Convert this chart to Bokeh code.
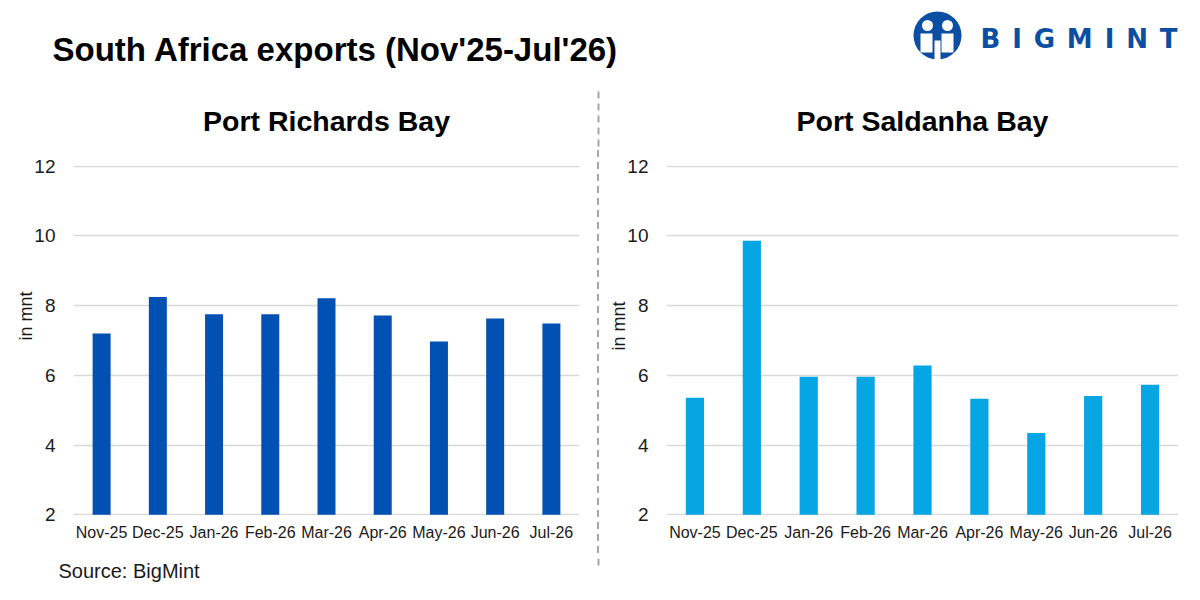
from bokeh.plotting import figure
from bokeh.layouts import column, row
from bokeh.models import Range1d, FactorRange, FixedTicker, ColumnDataSource, Title, Div
from bokeh.core.properties import value
from bokeh.embed import file_html
from bokeh.resources import INLINE

# ---- data ----
months = ["Nov-25", "Dec-25", "Jan-26", "Feb-26", "Mar-26", "Apr-26", "May-26", "Jun-26", "Jul-26"]
richards_bay = [7.20, 8.25, 7.75, 7.75, 8.21, 7.72, 6.97, 7.63, 7.49]
saldanha_bay = [5.36, 9.86, 5.96, 5.96, 6.28, 5.33, 4.35, 5.41, 5.73]
y_ticks = [2, 4, 6, 8, 10, 12]

main_title = "South Africa exports (Nov'25-Jul'26)"
left_title = "Port Richards Bay"
right_title = "Port Saldanha Bay"
y_label = "in mnt"
source_text = "Source: BigMint"
logo_text = "BIGMINT"

FONT = "Liberation Sans"
DARK = "#1a1a1a"
GRID = "#d9d9d9"
LEFT_COLOR = "#0051B3"
RIGHT_COLOR = "#06A5E3"
LOGO_BLUE = "#0B4EA2"
DIVIDER = "#a6a6a6"

HEAD_H = 150
ROW_H = 408
FOOT_H = 42


def bare(p):
    p.axis.visible = False
    p.xgrid.grid_line_color = None
    p.ygrid.grid_line_color = None
    p.outline_line_color = None
    p.background_fill_color = "white"
    p.border_fill_color = "white"


def panel(values, color, width, border_left, border_right, label_offset):
    src = ColumnDataSource(dict(month=months, value=values))
    p = figure(x_range=FactorRange(factors=months), y_range=Range1d(1.98, 12.02),
               width=width, height=ROW_H, output_backend="svg", toolbar_location=None,
               min_border_left=border_left, min_border_right=border_right,
               min_border_top=15, min_border_bottom=43, title=None)
    p.vbar(x="month", top="value", bottom=2, width=0.32, source=src,
           fill_color=color, line_color=None)
    p.xgrid.grid_line_color = None
    p.ygrid.ticker = FixedTicker(ticks=y_ticks)
    p.ygrid.grid_line_color = GRID
    p.ygrid.grid_line_width = 1.5
    p.yaxis.ticker = FixedTicker(ticks=y_ticks)
    for ax in (p.xaxis, p.yaxis):
        ax.axis_line_color = None
        ax.major_tick_line_color = None
        ax.minor_tick_line_color = None
        ax.major_label_text_font = FONT
        ax.major_label_text_color = DARK
    p.yaxis.major_label_text_font_size = "19px"
    p.yaxis.major_label_standoff = 12
    p.xaxis.major_label_text_font_size = "16px"
    p.xaxis.major_label_standoff = 2
    # y-axis caption, shifted along the axis as in the original
    p.add_layout(Title(text=y_label, align="left", offset=label_offset, standoff=-8,
                       text_font=FONT, text_font_size="18px", text_font_style="normal",
                       text_color=DARK), "left")
    p.outline_line_color = None
    p.background_fill_color = "white"
    p.border_fill_color = "white"
    return p


# ---- header: main title, logo, panel titles ----
header = figure(width=1200, height=HEAD_H, x_range=Range1d(0, 1200), y_range=Range1d(HEAD_H, 0),
                output_backend="svg", toolbar_location=None, min_border=0, title=None)
bare(header)
header.text(x=[52], y=[48.5], text=[main_title], text_font=value(FONT), text_font_size="33px",
            text_font_style="bold", text_color="#000000", text_baseline="alphabetic",
            text_align="left")
header.text(x=[326, 922], y=[120, 120], text=[left_title, right_title], text_font=value(FONT),
            text_font_size="28.5px", text_font_style="bold", text_color="#000000",
            text_baseline="alphabetic", text_align="center")
header.segment(x0=[598], y0=[91], x1=[598], y1=[HEAD_H], line_color=DIVIDER, line_width=2,
               line_dash="7 5")
# logo icon
header.circle(x=[937], y=[35], radius=24, fill_color=LOGO_BLUE, line_color=None)
header.circle(x=[927, 947], y=[25, 25], radius=5.5, fill_color="white", line_color=None)
header.quad(left=[920, 941], right=[932, 953], top=[33, 33], bottom=[52, 52],
            fill_color="white", line_color=None)
header.quad(left=[934], right=[940], top=[40], bottom=[60], fill_color="white", line_color=None)
# logo text, letter-spaced
letter_x = [989.9, 1016.5, 1043.9, 1079.3, 1109.0, 1136.6, 1168.2]
header.text(x=letter_x, y=[38] * len(letter_x), text=list(logo_text), text_font=value("DejaVu Sans"),
            text_font_size="26px", text_font_style="bold", text_color=LOGO_BLUE,
            text_baseline="alphabetic", text_align="center")

# ---- panels ----
left = panel(richards_bay, LEFT_COLOR, 595, 73, 16, 175)
right = panel(saldanha_bay, RIGHT_COLOR, 599, 65, 22, 165)

divider = Div(text=('<svg width="6" height="%d" style="display:block">'
                    '<line x1="3" y1="0" x2="3" y2="%d" stroke="%s" stroke-width="2" '
                    'stroke-dasharray="7 5"/></svg>') % (ROW_H, ROW_H, DIVIDER),
              width=6, height=ROW_H, margin=0)

# ---- footer ----
footer = figure(width=1200, height=FOOT_H, x_range=Range1d(0, 1200), y_range=Range1d(FOOT_H, 0),
                output_backend="svg", toolbar_location=None, min_border=0, title=None)
bare(footer)
footer.segment(x0=[598], y0=[0], x1=[598], y1=[9], line_color=DIVIDER, line_width=2,
               line_dash="7 5")
footer.text(x=[58], y=[12], text=[source_text], text_font=value(FONT), text_font_size="20px",
            text_color=DARK, text_baseline="alphabetic", text_align="left")

layout = column(header, row(left, divider, right, spacing=0), footer, spacing=0)

open("out.html", "w").write(file_html(layout, INLINE))
